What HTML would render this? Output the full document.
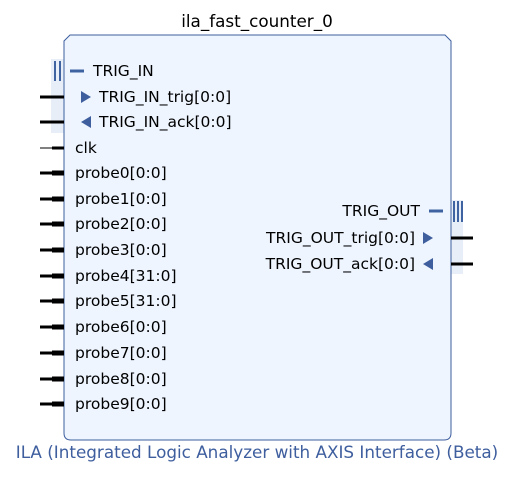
<!DOCTYPE html>
<html><head><style>body{margin:0;background:#fff}</style></head><body>
<svg width="506" height="473" xmlns="http://www.w3.org/2000/svg" font-family="DejaVu Sans, Liberation Sans, sans-serif" font-size="15.5">
<text x="257" y="27" text-anchor="middle" fill="#000" font-size="16.8">ila_fast_counter_0</text>
<rect x="51" y="59" width="14" height="74" fill="#e8eef8"/>
<rect x="451" y="200" width="12" height="74" fill="#e8eef8"/>
<path d="M70 35 H445 L451 41 V433 Q451 440 444 440 H71 Q64 440 64 433 V41 Z" fill="#eef5ff" stroke="#3e5e9e" stroke-width="1"/>
<g stroke="#3e63a0" stroke-width="2">
<line x1="55" y1="61" x2="55" y2="81"/><line x1="60" y1="61" x2="60" y2="81"/>
<line x1="70" y1="71" x2="84" y2="71" stroke-width="3"/>
<line x1="454" y1="201" x2="454" y2="222"/><line x1="458" y1="201" x2="458" y2="222"/><line x1="462" y1="201" x2="462" y2="222"/>
<line x1="429" y1="211" x2="443" y2="211" stroke-width="3"/>
</g>
<g fill="#3e5e9e">
<path d="M81 91 L91 97 L81 103 Z"/><path d="M91 116 L81 122 L91 128 Z"/>
<path d="M423 232 L433 238 L423 244 Z"/><path d="M433 258 L423 264 L433 270 Z"/>
</g>
<g stroke="#000" stroke-width="3">
<line x1="40" y1="97" x2="64" y2="97"/><line x1="40" y1="122" x2="64" y2="122"/>
<line x1="52" y1="148" x2="64" y2="148"/>
<line x1="451" y1="238" x2="473" y2="238"/><line x1="451" y1="264" x2="473" y2="264"/>
</g>
<line x1="40" y1="148" x2="52" y2="148" stroke="#000" stroke-width="1"/>
<g stroke="#000">
<g stroke-width="3"><line x1="40" y1="173" x2="52" y2="173"/><line x1="40" y1="199" x2="52" y2="199"/><line x1="40" y1="224" x2="52" y2="224"/><line x1="40" y1="250" x2="52" y2="250"/><line x1="40" y1="276" x2="52" y2="276"/><line x1="40" y1="301" x2="52" y2="301"/><line x1="40" y1="327" x2="52" y2="327"/><line x1="40" y1="353" x2="52" y2="353"/><line x1="40" y1="379" x2="52" y2="379"/><line x1="40" y1="404" x2="52" y2="404"/></g>
<g stroke-width="5"><line x1="52" y1="173" x2="64" y2="173"/><line x1="52" y1="199" x2="64" y2="199"/><line x1="52" y1="224" x2="64" y2="224"/><line x1="52" y1="250" x2="64" y2="250"/><line x1="52" y1="276" x2="64" y2="276"/><line x1="52" y1="301" x2="64" y2="301"/><line x1="52" y1="327" x2="64" y2="327"/><line x1="52" y1="353" x2="64" y2="353"/><line x1="52" y1="379" x2="64" y2="379"/><line x1="52" y1="404" x2="64" y2="404"/></g>
</g>
<g fill="#000" dominant-baseline="central">
<text x="93" y="71">TRIG_IN</text>
<text x="99" y="97">TRIG_IN_trig[0:0]</text>
<text x="99" y="122">TRIG_IN_ack[0:0]</text>
<text x="75" y="148">clk</text>
<text x="75" y="173">probe0[0:0]</text>
<text x="75" y="199">probe1[0:0]</text>
<text x="75" y="224">probe2[0:0]</text>
<text x="75" y="250">probe3[0:0]</text>
<text x="75" y="276">probe4[31:0]</text>
<text x="75" y="301">probe5[31:0]</text>
<text x="75" y="327">probe6[0:0]</text>
<text x="75" y="353">probe7[0:0]</text>
<text x="75" y="379">probe8[0:0]</text>
<text x="75" y="404">probe9[0:0]</text>
<text x="420" y="211" text-anchor="end">TRIG_OUT</text>
<text x="415" y="238" text-anchor="end">TRIG_OUT_trig[0:0]</text>
<text x="415" y="264" text-anchor="end">TRIG_OUT_ack[0:0]</text>
</g>
<text x="257" y="458" text-anchor="middle" fill="#3e5e9e" font-size="16.8">ILA (Integrated Logic Analyzer with AXIS Interface) (Beta)</text>
</svg>
</body></html>
